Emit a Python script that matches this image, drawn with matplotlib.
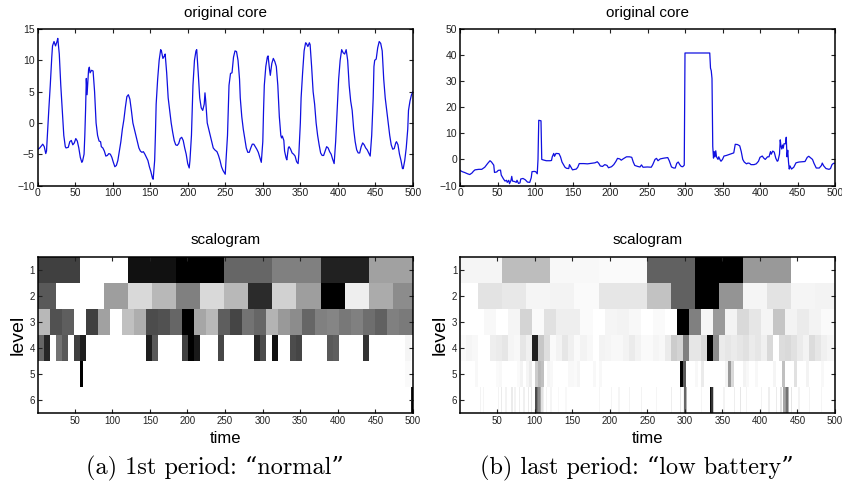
#!/usr/bin/env python3
"""
Two periods side by side: original core signal on top, scalogram below.
"""
import numpy as np
import matplotlib
matplotlib.use('Agg')
import matplotlib.pyplot as plt

plt.rcParams['font.family'] = ['Liberation Sans', 'DejaVu Sans']

# signal, 1st period
t_normal = [0, 3, 7, 9, 11, 12, 15, 17, 19, 20, 22, 24, 26, 27, 29, 31, 33, 35, 37, 38, 41, 43, 45, 47, 49, 51, 53, 55, 57, 59, 60, 62, 63, 64, 65, 66, 67, 68, 69, 70, 72, 74, 76, 78, 80, 82, 84, 85, 87, 89, 91, 93, 95, 97, 99, 101, 103, 105, 107, 109, 111, 113, 115, 117, 119, 121, 123, 125, 127, 129, 131, 133, 135, 137, 139, 141, 143, 145, 147, 149, 151, 153, 154, 156, 157, 158, 160, 162, 164, 165, 167, 169, 170, 172, 174, 176, 178, 180, 182, 184, 186, 188, 190, 192, 194, 196, 198, 200, 202, 203, 205, 206, 207, 209, 211, 212, 214, 216, 218, 220, 222, 223, 224, 226, 228, 230, 232, 234, 236, 239, 241, 243, 245, 247, 250, 251, 253, 254, 255, 257, 259, 261, 263, 265, 267, 269, 270, 272, 274, 276, 278, 280, 282, 284, 286, 288, 290, 292, 294, 296, 298, 300, 301, 302, 304, 306, 307, 309, 310, 312, 314, 316, 318, 320, 322, 324, 325, 326, 328, 329, 331, 332, 334, 335, 337, 339, 341, 343, 345, 347, 348, 350, 351, 353, 355, 357, 358, 360, 362, 363, 365, 367, 369, 371, 373, 375, 377, 379, 381, 383, 385, 387, 389, 391, 393, 395, 397, 399, 401, 403, 405, 407, 409, 411, 413, 415, 417, 419, 421, 423, 425, 427, 429, 431, 433, 435, 437, 439, 441, 443, 445, 447, 448, 449, 451, 453, 455, 457, 459, 461, 463, 465, 467, 469, 471, 473, 475, 477, 478, 480, 482, 484, 486, 487, 489, 491, 493, 494, 496, 498, 500]
y_normal = [-4.3, -4, -3.4, -3.8, -4.9, -4.5, 2, 6, 10.5, 12.3, 13, 12.3, 13, 13.5, 11, 6, 2, -2, -3.8, -4, -3.9, -3, -2.8, -3.5, -3.2, -2.5, -2.9, -4, -5.5, -6.3, -6.1, -5, -2, 2, 7.1, 4.5, 6.5, 8.5, 8.9, 8, 8.4, 8.3, 5, 0, -2, -2.9, -3, -3.8, -4, -4.5, -5.3, -5.2, -4.9, -5, -5.5, -6.3, -7, -6.8, -6, -4.5, -3, -1, 0.5, 2.5, 4.2, 4.5, 3.8, 2, 0, -1, -2, -3, -4, -4.5, -4.7, -4.6, -5, -5.5, -6, -7, -7.8, -8.8, -9, -6, -2, 3, 7, 10, 11.7, 11.5, 10.3, 10.7, 11, 8, 4, 2, 0, -1.5, -2.8, -3.5, -3.6, -3.3, -2.5, -2.3, -2.8, -4, -5, -6.5, -7.2, -6, -2, 2, 6, 10, 11.5, 11.7, 8, 4, 2.4, 2, 3, 4.8, 3.5, 0, -1, -2, -3, -4, -4.3, -4.6, -5.2, -6, -7, -7.6, -8.2, -6, -2, 2, 6, 7.9, 8, 10.5, 11.5, 11.4, 10, 7, 4, 1, -1, -2.5, -4, -4.7, -4.7, -4, -3.4, -3.4, -3.8, -4.2, -4.7, -5.5, -6.3, -3, 2, 6, 9, 10.5, 10.7, 8.5, 7.6, 9.5, 10.3, 9.8, 9, 6, 1, -2, -2.4, -2.1, -2.8, -4.5, -5.6, -5.9, -4, -3.8, -4.2, -4.8, -5, -5.3, -6.2, -6.5, -5, 0, 4, 8, 11.5, 12.8, 12.7, 12.2, 12.8, 12.5, 9, 5, 3, 0, -2, -3.5, -4.8, -5.2, -5.2, -4.5, -3.8, -4, -4.6, -5, -5.8, -6.5, -3, 2, 7, 10, 11.7, 11.2, 11, 11.7, 10, 6, 3.5, 2, -1, -3, -4.3, -4.8, -4.8, -3.8, -3.2, -3.5, -4, -4.3, -4.8, -5.3, -2, 4, 9, 10, 10.2, 12, 13, 12.7, 11.5, 7, 4, 2, 0, -2, -3.5, -4.2, -4.1, -3.2, -3, -3.5, -5, -6, -7.3, -7.3, -6, -4, -1, 2, 3.5, 4.5, 5]

# signal, last period
t_battery = [0, 3, 6, 10, 13, 16, 18, 20, 25, 29, 33, 37, 40, 42, 45, 46, 49, 51, 54, 55, 58, 60, 62, 63, 65, 66, 68, 69, 70, 73, 75, 76, 78, 80, 81, 84, 87, 90, 93, 95, 96, 99, 101, 103, 104, 105, 108, 109, 111, 115, 120, 122, 123, 125, 126, 128, 132, 134, 136, 138, 140, 142, 145, 146, 148, 150, 155, 157, 159, 165, 170, 175, 180, 183, 185, 187, 190, 193, 196, 198, 202, 205, 208, 210, 213, 215, 218, 222, 226, 229, 231, 233, 237, 240, 242, 244, 250, 255, 257, 260, 262, 264, 267, 272, 277, 279, 282, 285, 287, 289, 291, 293, 295, 297, 299, 300, 310, 333, 334, 335, 336, 337, 338, 339, 340, 341, 342, 344, 345, 347, 348, 350, 352, 355, 360, 365, 367, 370, 373, 375, 377, 379, 382, 384, 386, 388, 392, 395, 398, 400, 403, 405, 407, 410, 412, 414, 415, 417, 419, 421, 423, 424, 426, 427, 428, 429, 430, 431, 432, 434, 435, 436, 437, 438, 439, 440, 442, 445, 448, 452, 456, 460, 463, 465, 468, 470, 472, 475, 479, 482, 483, 485, 488, 492, 494, 496, 498, 500]
y_battery = [-4.2, -4.7, -5, -5.5, -5.8, -5.2, -4.5, -4, -3.8, -3.8, -3, -1.5, -0.5, -1, -2.2, -5, -4.8, -4.2, -4.1, -6, -7.5, -8.3, -8, -8.8, -8, -9.3, -8, -6.5, -8.3, -8.5, -8.8, -8, -9.2, -9, -7.5, -7.3, -7.8, -8.7, -8.8, -7, -4.7, -4.6, -4.7, -5.5, 0, 15, 14.8, 0, -0.2, -0.5, -0.5, -0.4, 1, 2.3, 1.2, 2.3, 2.2, 1, -1, -2, -3, -3.4, -3.5, -2, -3, -4, -3.7, -3, -1.6, -1.6, -1.7, -1.5, -1.3, -0.9, -1.5, -2.5, -2.7, -2, -2.3, -3.2, -2.8, -2, -0.7, 0.4, 0.2, -0.3, 0.3, 1, 1, 0.8, -1, -2.3, -2.7, -2.9, -2.1, -3, -2.9, -3, -2, 0, 0.4, -0.5, 0.2, 0.5, 0.7, -0.5, -2.9, -3.3, -3.3, -1.5, -1, -2, -2.7, -2.8, -2.2, 40.8, 40.8, 40.8, 35, 34, 31, 5, 0.5, 3, 1, 3.3, 1, 0, 1, -0.3, -0.7, 0, 1.3, 1.5, 2, 2.5, 5.8, 5.7, 5.2, 3, 0, -1, -1.7, -1.4, -1.5, -2, -2, -1.7, -0.7, 0.8, 1.3, 0.5, 0, 1, 1, 3, 2, 3.2, 2.8, 0.5, -0.7, -0.5, 2, 7.5, 5, 4, 5.5, 4.3, 6, 6, 8.5, 1, 3.5, -1, -3.7, -2.5, -3.7, -3, -1.3, -1, -0.9, -0.8, 0.8, 1.2, 0.5, 0, -1.5, -3.3, -3.3, -2.3, -1.4, -2.5, -3.5, -3.8, -3.5, -2, -1.5, -1.5]

# scalogram grey levels per wavelet level (0 black, 1 white), 1st period
norm_l1 = [0.25, 1, 0.07, 0, 0.4, 0.5, 0.13, 0.63]
norm_l2 = [0.35, 1, 1, 0.62, 0.85, 0.72, 0.5, 0.85, 0.72, 0.17, 0.82, 0.62, 0, 0.93, 0.67, 0.55]
norm_l3 = [0.72, 0.32, 0.37, 1, 0.25, 0.63, 1, 0.75, 0.68, 0.3, 0.32, 0.4, 0, 0.65, 0.72, 0.37,
           0.27, 0.45, 0.4, 0.7, 0.6, 0.55, 0.4, 0.5, 0.52, 0.47, 0.5, 0.43, 0.38, 0.5, 0.48, 0.48]
norm_l4 = [0.4, 0.15, 1, 0.45, 0.35, 1, 0.25, 0.12, 1, 1, 1, 1, 1, 1, 1, 1,
           1, 1, 0.12, 0.35, 1, 1, 1, 1, 0.25, 0, 0.1, 1, 1, 1, 0.28, 1,
           1, 1, 1, 1, 0.15, 0.3, 1, 0.07, 1, 1, 0.3, 0.27, 1, 1, 1, 1,
           0.35, 0.37, 1, 1, 1, 1, 0.2, 1, 1, 1, 1, 1, 1, 0.96, 1]

# 5th and 6th levels are mostly white, only the non-white cells are listed
norm_l5_cells = [14, 122, 123]
norm_l5_grey = [0.0, 0.98, 0.98]
norm_l6_cells = [248, 249]
norm_l6_grey = [0.1, 0.0]

# same for the last period
batt_l1 = [0.96, 0.74, 0.97, 0.98, 0.38, 0, 0.6, 1]
batt_l2 = [1, 0.89, 0.91, 0.96, 0.95, 0.98, 0.9, 0.9, 0.76, 0.38, 0, 0.58, 0.96, 0.89, 0.96, 0.95]
batt_l3 = [1, 1, 0.97, 1, 0.96, 0.83, 0.98, 0.88, 0.93, 0.93, 0.98, 1, 0.96, 0.95, 0.97, 1,
           0.98, 1, 0, 0.5, 0.96, 0.6, 0.95, 0.85, 0.9, 0.96, 0.77, 0.95, 0.92, 0.95, 0.98, 0.98]
batt_l4 = [0.98, 0.96, 0.97, 1, 1, 0.93, 0.92, 0.9, 0.96, 0.97, 0.9, 0.94, 0.13, 0.78, 0.87, 0.98,
           0.95, 0.9, 0.94, 0.98, 0.95, 0.97, 1, 0.95, 0.96, 0.97, 0.97, 0.95, 0.92, 0.95, 0.98, 0.98,
           0.96, 0.97, 0.92, 0.8, 0.83, 0.5, 0.9, 0.9, 0.85, 0, 0.55, 0.92, 0.9, 0.92, 0.9, 0.88,
           0.92, 0.9, 0.94, 0.85, 1, 0.86, 0.85, 0.88, 0.92, 0.95, 0.86, 0.9, 0.94, 0.96, 0.97]
batt_l5_cells = [5, 12, 13, 19, 20, 22, 23, 25, 26, 27, 29, 30, 36, 37, 38, 39, 44, 46, 73, 74, 78, 80, 88, 89, 90,
                 94, 95, 98, 104, 107, 111, 115, 120]
batt_l5_grey = [0.97, 0.98, 0.97, 0.98, 0.95, 0.96, 0.92, 0.8, 0.72, 0.75, 0.96, 0.97, 0.97, 0.97, 0.98, 0.96,
                0.97, 0.97, 0.0, 0.35, 0.97, 0.92, 0.95, 0.6, 0.85, 0.95, 0.97, 0.97, 0.96, 0.75, 0.88, 0.95, 0.97]
batt_l6_cells = [13, 15, 25, 27, 30, 34, 36, 39, 42, 45, 47, 50, 51, 52, 53, 54, 55, 57, 60, 65, 70, 92, 100, 105, 112,
                 120, 130, 140, 146, 148, 149, 150, 160, 166, 167, 168, 175, 182, 186, 190, 200, 205, 210, 213, 215, 216,
                 217, 218, 220, 225, 232, 240]
batt_l6_grey = [0.95, 0.96, 0.95, 0.92, 0.95, 0.92, 0.95, 0.93, 0.94, 0.92, 0.9, 0.3, 0.45, 0.55, 0.65, 0.88, 0.93,
                0.95, 0.96, 0.97, 0.97, 0.96, 0.96, 0.96, 0.95, 0.95, 0.96, 0.93, 0.9, 0.95, 0.4, 0.7, 0.96, 0.05, 0.2,
                0.8, 0.95, 0.93, 0.9, 0.95, 0.95, 0.93, 0.92, 0.88, 0.65, 0.6, 0.45, 0.7, 0.9, 0.95, 0.95, 0.96]

norm_levels = [norm_l1, norm_l2, norm_l3, norm_l4]
batt_levels = [batt_l1, batt_l2, batt_l3, batt_l4]

line_ticks = list(range(0, 501, 50))
scalo_ticks = list(range(50, 501, 50))
level_ticks = [1, 2, 3, 4, 5, 6]
W, H = 842.0, 495.0


def axes_px(fig, x0, x1, y0, y1):
    # pixel box of the reference -> figure fraction
    return fig.add_axes([x0 / W, 1 - y1 / H, (x1 - x0) / W, (y1 - y0) / H])


def style(ax):
    ax.tick_params(direction='in', top=True, right=True, length=3, width=0.8,
                   labelsize=7.5, pad=2, colors='#222222')
    for s in ax.spines.values():
        s.set_linewidth(1.1)


def draw_line(ax, t, y, ylim, yticks):
    ax.plot(t, y, color='#1010e0', linewidth=0.9)
    ax.set_xlim(0, 500)
    ax.set_ylim(*ylim)
    ax.set_xticks(line_ticks)
    ax.set_yticks(yticks)
    ax.set_yticklabels([str(v).replace('-', '\u2212') for v in yticks])
    ax.set_title('original core', fontsize=11, pad=9)
    style(ax)


def draw_row(ax, level, grey):
    # a cell of a level covers 2**(7-level) samples
    width = 2 ** (7 - level)
    first = -7 if level <= 2 else 1
    edges = np.clip(first + width * np.arange(len(grey) + 1), 0.5, 500)
    ax.pcolormesh(edges, [level - 0.5, level + 0.5], [grey], cmap='gray',
                  vmin=0, vmax=1, shading='flat')


def draw_scalo(ax, rows, l5_cells, l5_grey, l6_cells, l6_grey):
    for i, grey in enumerate(rows):
        draw_row(ax, i + 1, grey)
    for level, cells, greys in ((5, l5_cells, l5_grey), (6, l6_cells, l6_grey)):
        width = 2 ** (7 - level)
        row = np.ones(500 // width)
        row[cells] = greys
        draw_row(ax, level, list(row))
    ax.set_xlim(0.5, 500)
    ax.set_ylim(6.5, 0.5)
    ax.set_xticks(scalo_ticks)
    ax.set_yticks(level_ticks)
    ax.set_title('scalogram', fontsize=11, pad=9)
    ax.set_xlabel('time', fontsize=12, labelpad=4)
    ax.set_ylabel('level', fontsize=14, labelpad=2)
    style(ax)
    ax.tick_params(labelsize=7)


fig = plt.figure(figsize=(W / 100, H / 100), dpi=100)

ax = axes_px(fig, 37.5, 413, 29, 185.5)
draw_line(ax, t_normal, y_normal, (-10, 15), [-10, -5, 0, 5, 10, 15])
ax = axes_px(fig, 460, 835, 29, 185.5)
draw_line(ax, t_battery, y_battery, (-10, 50), [-10, 0, 10, 20, 30, 40, 50])

ax = axes_px(fig, 37.5, 413, 256.5, 413)
draw_scalo(ax, norm_levels, norm_l5_cells, norm_l5_grey, norm_l6_cells, norm_l6_grey)
ax = axes_px(fig, 460, 835, 256.5, 413)
draw_scalo(ax, batt_levels, batt_l5_cells, batt_l5_grey, batt_l6_cells, batt_l6_grey)

caption_font = ['cmr10', 'DejaVu Serif']
fig.text(214.5 / W, 1 - 468 / H, '(a) 1st period: \u201cnormal\u201d', ha='center', va='center',
         fontsize=17.5, family=caption_font)
fig.text(637 / W, 1 - 468 / H, '(b) last period: \u201clow battery\u201d', ha='center', va='center',
         fontsize=17.5, family=caption_font)

fig.savefig('out.png', dpi=100)
